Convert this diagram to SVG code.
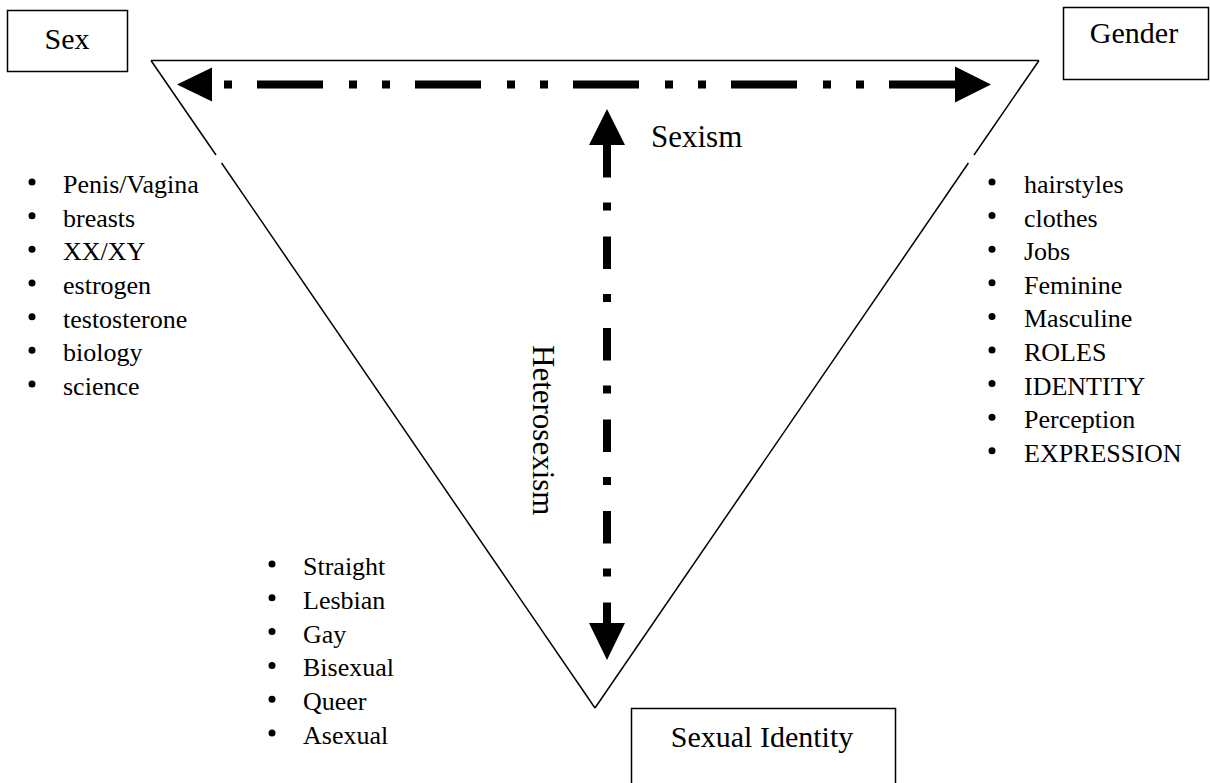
<svg xmlns="http://www.w3.org/2000/svg" width="1210" height="783" viewBox="0 0 1210 783">
<style>
.box{fill:#fff;stroke:#000;stroke-width:1.5}
.lbl{font-family:"Liberation Serif",serif;font-size:30px;fill:#000;text-anchor:middle}
.li{font-family:"Liberation Serif",serif;font-size:26px;fill:#000}
.edge{stroke:#000;stroke-width:1.5;fill:none}
.bul{fill:#000}
.dash{stroke:#000;stroke-width:8;fill:none;stroke-linecap:butt}
.head{fill:#000}
.rel{font-family:"Liberation Serif",serif;font-size:31px;fill:#000}
</style>
<rect width="1210" height="783" fill="#fff"/>
<g id="triangle">
<line class="edge" x1="151" y1="60.5" x2="1039" y2="60.5"/>
<line class="edge" x1="151" y1="60.5" x2="216" y2="155"/>
<line class="edge" x1="221.6" y1="163" x2="595" y2="708"/>
<line class="edge" x1="1039" y1="60.5" x2="974" y2="155"/>
<line class="edge" x1="968.4" y1="163" x2="595" y2="708"/>
</g>
<g id="connectors">
<line class="dash" x1="224" y1="84.5" x2="955" y2="84.5" stroke-dasharray="66 26 8 25 8 25" stroke-dashoffset="125"/>
<polygon class="head" points="177,84.5 212,67.5 212,101.5"/>
<polygon class="head" points="991,84.5 955,66.5 955,102.5"/>
<line class="dash" x1="607" y1="145" x2="607" y2="623" stroke-dasharray="32.5 25 8 26"/>
<polygon class="head" points="607,109 589,145 625,145"/>
<polygon class="head" points="607,660 589,623 625,623"/>
<text class="rel" x="651" y="147">Sexism</text>
<text class="rel" transform="translate(533,345) rotate(90)">Heterosexism</text>
</g>
<g id="sex">
<rect class="box" x="7.5" y="10.5" width="120" height="61"/>
<text class="lbl" x="67" y="49">Sex</text>
</g>
<g id="gender">
<rect class="box" x="1063.5" y="7.5" width="145" height="72"/>
<text class="lbl" x="1134" y="43">Gender</text>
</g>
<g id="sexual-identity">
<rect class="box" x="631.5" y="708.5" width="264" height="90"/>
<text class="lbl" x="762" y="747">Sexual Identity</text>
</g>
<g id="sex-list">
<circle class="bul" cx="32" cy="182" r="3.5"/><text class="li" x="63" y="193">Penis/Vagina</text>
<circle class="bul" cx="32" cy="215.7" r="3.5"/><text class="li" x="63" y="226.7">breasts</text>
<circle class="bul" cx="32" cy="249.3" r="3.5"/><text class="li" x="63" y="260.3">XX/XY</text>
<circle class="bul" cx="32" cy="283" r="3.5"/><text class="li" x="63" y="294">estrogen</text>
<circle class="bul" cx="32" cy="316.7" r="3.5"/><text class="li" x="63" y="327.7">testosterone</text>
<circle class="bul" cx="32" cy="350.3" r="3.5"/><text class="li" x="63" y="361.3">biology</text>
<circle class="bul" cx="32" cy="384" r="3.5"/><text class="li" x="63" y="395">science</text>
</g>
<g id="gender-list">
<circle class="bul" cx="992" cy="182" r="3.5"/><text class="li" x="1024" y="193">hairstyles</text>
<circle class="bul" cx="992" cy="215.6" r="3.5"/><text class="li" x="1024" y="226.6">clothes</text>
<circle class="bul" cx="992" cy="249.2" r="3.5"/><text class="li" x="1024" y="260.2">Jobs</text>
<circle class="bul" cx="992" cy="282.8" r="3.5"/><text class="li" x="1024" y="293.8">Feminine</text>
<circle class="bul" cx="992" cy="316.4" r="3.5"/><text class="li" x="1024" y="327.4">Masculine</text>
<circle class="bul" cx="992" cy="350" r="3.5"/><text class="li" x="1024" y="361">ROLES</text>
<circle class="bul" cx="992" cy="383.6" r="3.5"/><text class="li" x="1024" y="394.6">IDENTITY</text>
<circle class="bul" cx="992" cy="417.2" r="3.5"/><text class="li" x="1024" y="428.2">Perception</text>
<circle class="bul" cx="992" cy="450.8" r="3.5"/><text class="li" x="1024" y="461.8">EXPRESSION</text>
</g>
<g id="sexual-identity-list">
<circle class="bul" cx="272" cy="564" r="3.5"/><text class="li" x="303" y="575">Straight</text>
<circle class="bul" cx="272" cy="597.8" r="3.5"/><text class="li" x="303" y="608.8">Lesbian</text>
<circle class="bul" cx="272" cy="631.6" r="3.5"/><text class="li" x="303" y="642.6">Gay</text>
<circle class="bul" cx="272" cy="665.4" r="3.5"/><text class="li" x="303" y="676.4">Bisexual</text>
<circle class="bul" cx="272" cy="699.2" r="3.5"/><text class="li" x="303" y="710.2">Queer</text>
<circle class="bul" cx="272" cy="733" r="3.5"/><text class="li" x="303" y="744">Asexual</text>
</g>
</svg>
